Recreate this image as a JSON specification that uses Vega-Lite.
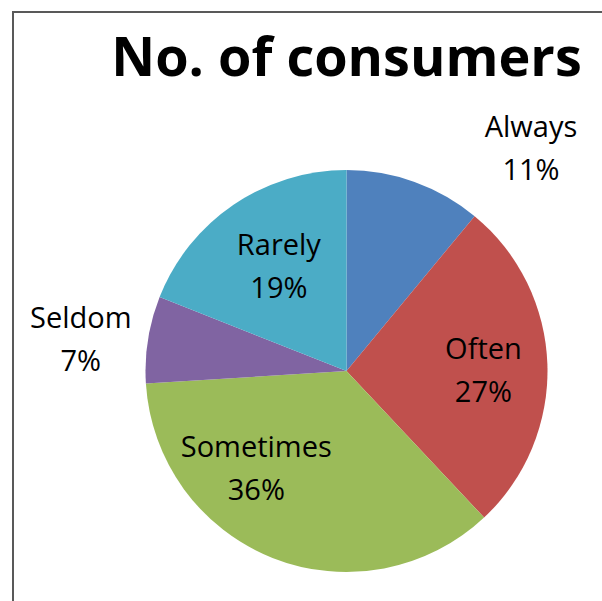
{
  "$schema": "https://vega.github.io/schema/vega-lite/v6.json",
  "width": 667,
  "height": 718,
  "autosize": {"type": "none"},
  "padding": {"left": 13, "top": 12, "right": 0, "bottom": 0},
  "background": "white",
  "view": {"stroke": "#595959", "strokeWidth": 2, "fill": "white"},
  "title": {
    "text": "No. of consumers",
    "font": "Open Sans",
    "fontSize": 54,
    "fontWeight": "bold",
    "color": "#000000",
    "anchor": "middle",
    "baseline": "alphabetic",
    "offset": 0,
    "dy": 118
  },
  "data": {
    "values": [
      {"category": "Always", "share": 0.11, "rank": 1},
      {"category": "Often", "share": 0.27, "rank": 2},
      {"category": "Sometimes", "share": 0.36, "rank": 3},
      {"category": "Seldom", "share": 0.07, "rank": 4},
      {"category": "Rarely", "share": 0.19, "rank": 5}
    ]
  },
  "encoding": {
    "theta": {"field": "share", "type": "quantitative", "stack": true},
    "order": {"field": "rank", "type": "quantitative"}
  },
  "layer": [
    {
      "mark": {"type": "arc", "radius": 201, "stroke": null},
      "encoding": {
        "color": {
          "field": "category",
          "type": "nominal",
          "scale": {
            "domain": ["Always", "Often", "Sometimes", "Seldom", "Rarely"],
            "range": ["#4F81BD", "#C0504D", "#9BBB59", "#8064A2", "#4BACC6"]
          },
          "legend": null
        }
      }
    },
    {
      "mark": {"type": "text", "radius": 131, "dx": 6, "dy": -16.5, "font": "Open Sans", "fontSize": 29, "color": "#000000", "baseline": "middle"},
      "encoding": {
        "text": {"field": "category"},
        "opacity": {"condition": {"test": "datum.category === 'Often' || datum.category === 'Rarely'", "value": 1}, "value": 0}
      }
    },
    {
      "mark": {"type": "text", "radius": 131, "dx": 6, "dy": 26.5, "font": "Open Sans", "fontSize": 29, "color": "#000000", "baseline": "middle"},
      "encoding": {
        "text": {"field": "share", "format": ".0%"},
        "opacity": {"condition": {"test": "datum.category === 'Often' || datum.category === 'Rarely'", "value": 1}, "value": 0}
      }
    },
    {
      "mark": {"type": "text", "radius": 131, "dx": -42, "dy": -44.5, "font": "Open Sans", "fontSize": 29, "color": "#000000", "baseline": "middle"},
      "encoding": {
        "text": {"field": "category"},
        "opacity": {"condition": {"test": "datum.category === 'Sometimes'", "value": 1}, "value": 0}
      }
    },
    {
      "mark": {"type": "text", "radius": 131, "dx": -42, "dy": -1.5, "font": "Open Sans", "fontSize": 29, "color": "#000000", "baseline": "middle"},
      "encoding": {
        "text": {"field": "share", "format": ".0%"},
        "opacity": {"condition": {"test": "datum.category === 'Sometimes'", "value": 1}, "value": 0}
      }
    },
    {
      "mark": {"type": "text", "radius": 267, "dx": -2, "dy": -10.5, "font": "Open Sans", "fontSize": 29, "color": "#000000", "baseline": "middle"},
      "encoding": {
        "text": {"field": "category"},
        "opacity": {"condition": {"test": "datum.category === 'Seldom'", "value": 1}, "value": 0}
      }
    },
    {
      "mark": {"type": "text", "radius": 267, "dx": -2, "dy": 32.5, "font": "Open Sans", "fontSize": 29, "color": "#000000", "baseline": "middle"},
      "encoding": {
        "text": {"field": "share", "format": ".0%"},
        "opacity": {"condition": {"test": "datum.category === 'Seldom'", "value": 1}, "value": 0}
      }
    },
    {
      "mark": {"type": "text", "radius": 267, "dx": 94, "dy": 8.5, "font": "Open Sans", "fontSize": 29, "color": "#000000", "baseline": "middle"},
      "encoding": {
        "text": {"field": "category"},
        "opacity": {"condition": {"test": "datum.category === 'Always'", "value": 1}, "value": 0}
      }
    },
    {
      "mark": {"type": "text", "radius": 267, "dx": 94, "dy": 51.5, "font": "Open Sans", "fontSize": 29, "color": "#000000", "baseline": "middle"},
      "encoding": {
        "text": {"field": "share", "format": ".0%"},
        "opacity": {"condition": {"test": "datum.category === 'Always'", "value": 1}, "value": 0}
      }
    }
  ]
}
